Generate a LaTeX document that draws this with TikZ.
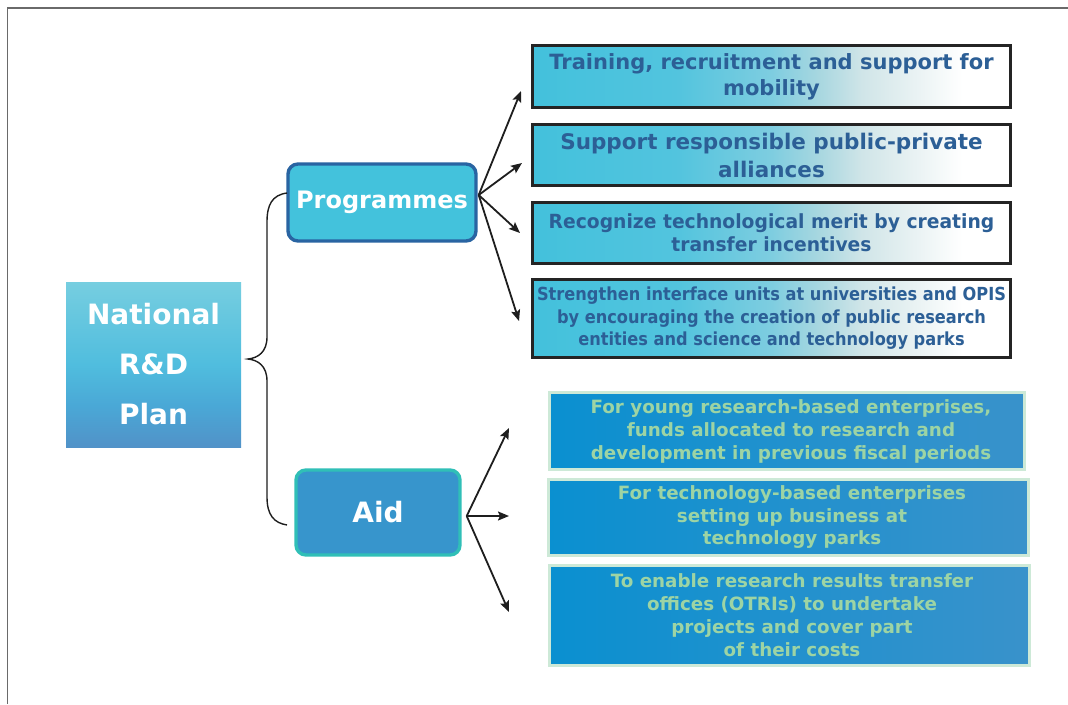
\documentclass[tikz,border=0pt]{standalone}
\usepackage{fontspec}
\setmainfont{DejaVu Sans}
\newfontfamily\narrowfont[FakeStretch=0.9]{DejaVu Sans}
\newfontfamily\slightfont[FakeStretch=0.96]{DejaVu Sans}
\usetikzlibrary{arrows.meta}
\definecolor{pc0}{HTML}{43C1DC}
\definecolor{pc1}{HTML}{52C4DE}
\definecolor{pc2}{HTML}{7ECDE0}
\definecolor{pc3}{HTML}{A8D7E0}
\definecolor{pc4}{HTML}{D0E5E8}
\definecolor{pc5}{HTML}{E9F2F3}
\definecolor{ptext}{HTML}{2C5F96}
\definecolor{pborder}{HTML}{242424}
\definecolor{aleft}{HTML}{0A90D0}
\definecolor{aright}{HTML}{3992CB}
\definecolor{aborder}{HTML}{CDE9D7}
\definecolor{atext}{HTML}{9DD4A4}
\definecolor{n0}{HTML}{76CEE0}
\definecolor{n1}{HTML}{50BDDE}
\definecolor{n2}{HTML}{4AA8D6}
\definecolor{n3}{HTML}{5192C8}
\definecolor{progfill}{HTML}{43C2DC}
\definecolor{progborder}{HTML}{2964A2}
\definecolor{aidfill}{HTML}{3795CC}
\definecolor{aidborder}{HTML}{30BFB7}
\definecolor{framegrey}{HTML}{6A6A6A}
\definecolor{arrowblack}{HTML}{1E1E1E}
\pgfdeclarehorizontalshading{pshade}{100bp}{color(0bp)=(pc0); color(25bp)=(pc0); color(40bp)=(pc1); color(50bp)=(pc2); color(55bp)=(pc3); color(59.5bp)=(pc4); color(65bp)=(pc5); color(70bp)=(white); color(100bp)=(white)}
\pgfdeclareverticalshading{nshade}{100bp}{color(0bp)=(n3); color(25bp)=(n3); color(37.5bp)=(n2); color(50bp)=(n1); color(75bp)=(n0); color(100bp)=(n0)}
\tikzset{
  pbox/.style={draw=pborder, line width=2.8pt, shade, shading=pshade, inner sep=0pt, align=center, text=ptext},
  abox/.style={draw=aborder, line width=2.6pt, left color=aleft, right color=aright, inner sep=0pt, align=center, text=atext},
  arr/.style={draw=arrowblack, line width=1.8pt, -{Stealth[length=11pt,width=9pt,inset=2pt]}},
  brace/.style={draw=arrowblack, line width=1.4pt},
}
\begin{document}
\begin{tikzpicture}[x=1pt,y=-1pt]
\useasboundingbox (0,0) rectangle (1068,704);
\fill[white] (0,0) rectangle (1068,704);
\draw[framegrey, line width=1.3pt] (7.5,704) -- (7.5,8) -- (1068,8);

% left column
\node[shade, shading=nshade, inner sep=0pt, minimum width=175pt, minimum height=165pt, align=center, text=white,
      font=\bfseries\fontsize{28}{50}\selectfont] (nat) at (153.5,364.5) {National\\R\&D\\Plan};

\node[draw=progborder, fill=progfill, line width=3.4pt, rounded corners=10pt, inner sep=0pt,
      minimum width=188pt, minimum height=77pt, text=white, font=\bfseries\fontsize{24}{28}\selectfont] (prog) at (382,202.5) {Programmes};

\node[draw=aidborder, fill=aidfill, line width=3.4pt, rounded corners=10pt, inner sep=0pt,
      minimum width=164pt, minimum height=85pt, text=white, font=\bfseries\fontsize{28}{32}\selectfont] (aid) at (378,512.5) {Aid};

% brace
\coordinate (btop) at (287,193);
\coordinate (bbot) at (287,525);
\coordinate (btip) at (248,359);
\draw[brace] (btop) .. controls (272,195) and (267,205) .. (267,222) -- (267,337)
   .. controls (267,352) and (258,358) .. (btip)
   .. controls (258,360) and (267,366) .. (267,381) -- (267,497)
   .. controls (267,515) and (274,523) .. (bbot);

% programme boxes
\node[pbox, minimum width=478pt, minimum height=62pt, font=\bfseries\fontsize{21}{26}\selectfont] (p1) at (771.5,76.5)
  {Training, recruitment and support for\\mobility};
\node[pbox, minimum width=478pt, minimum height=61pt, font=\bfseries\fontsize{21.5}{28}\selectfont] (p2) at (771.5,155)
  {Support responsible public-private\\alliances};
\node[pbox, minimum width=478pt, minimum height=61pt, font=\slightfont\bfseries\fontsize{19.5}{23}\selectfont] (p3) at (771.5,233)
  {Recognize technological merit by creating\\transfer incentives};
\node[pbox, minimum width=478pt, minimum height=78pt, font=\narrowfont\bfseries\fontsize{18}{22.5}\selectfont] (p4) at (771.5,318.5)
  {Strengthen interface units at universities and OPIS\\by encouraging the creation of public research\\entities and science and technology parks};

% aid boxes
\node[abox, minimum width=475pt, minimum height=77pt, font=\bfseries\fontsize{18.3}{23}\selectfont] (a1) at (787,431)
  {\hspace*{8pt}For young research-based enterprises,\\\hspace*{8pt}funds allocated to research and\\\hspace*{8pt}development in previous fiscal periods};
\node[abox, minimum width=480pt, minimum height=76pt, font=\bfseries\fontsize{18.3}{22.5}\selectfont] (a2) at (788.5,517.5)
  {\hspace*{7pt}For technology-based enterprises\\\hspace*{7pt}setting up business at\\\hspace*{7pt}technology parks};
\node[abox, minimum width=480pt, minimum height=100pt, font=\bfseries\fontsize{18.3}{23}\selectfont] (a3) at (789.5,615.5)
  {\hspace*{5pt}To enable research results transfer\\\hspace*{5pt}offices (OTRIs) to undertake\\\hspace*{5pt}projects and cover part\\\hspace*{5pt}of their costs};

% arrows from Programmes
\coordinate (po) at ([yshift=7.5pt,xshift=1pt]prog.east);
\coordinate (pt1) at (521,91);
\coordinate (pt2) at (522,163);
\coordinate (pt3) at (520,233);
\coordinate (pt4) at (519,321);
\foreach \t in {pt1,pt2,pt3,pt4} \draw[arr] (po) -- (\t);

% arrows from Aid
\coordinate (ao) at ([xshift=5pt,yshift=-3.5pt]aid.east);
\coordinate (at1) at (509,428);
\coordinate (at2) at (509,516);
\coordinate (at3) at (509,612);
\foreach \t in {at1,at2,at3} \draw[arr] (ao) -- (\t);
\end{tikzpicture}
\end{document}
